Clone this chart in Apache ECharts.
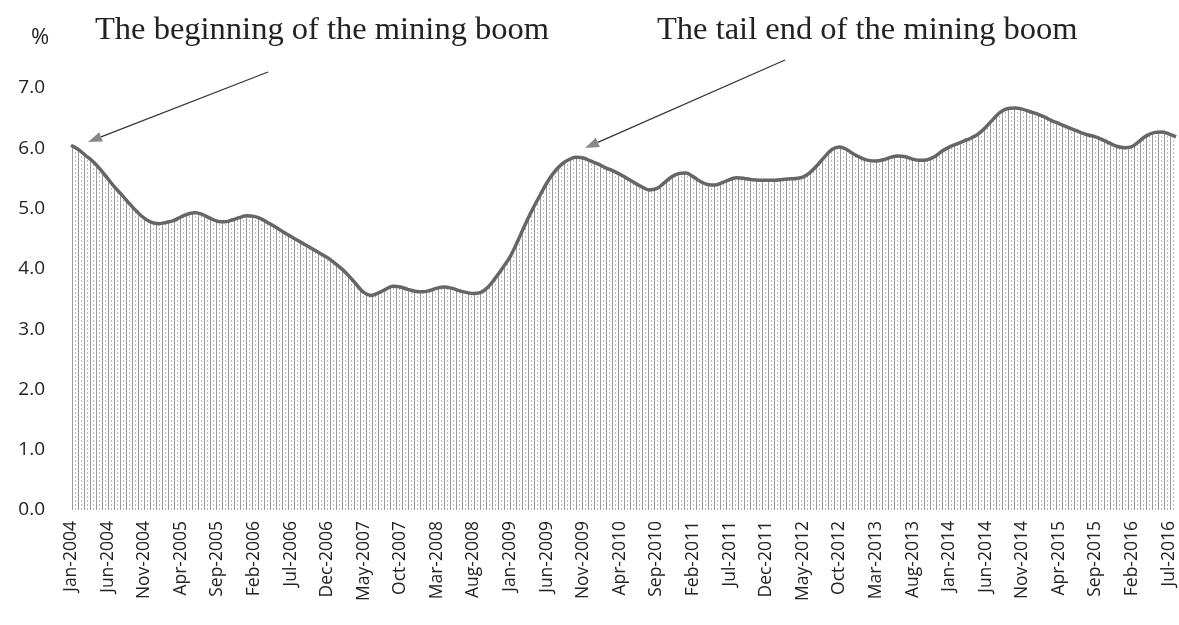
<!DOCTYPE html>
<html>
<head>
<meta charset="utf-8">
<script src="https://cdn.jsdelivr.net/npm/echarts@6/dist/echarts.min.js"></script>
<style>
  html, body { margin: 0; padding: 0; background: #fff; }
  #chart { width: 1179px; height: 625px; }
</style>
</head>
<body>
<div id="chart"></div>
<script>
// monthly values, Jan-2004 .. Aug-2016 (%)
let months = ['Jan', 'Feb', 'Mar', 'Apr', 'May', 'Jun', 'Jul', 'Aug', 'Sep', 'Oct', 'Nov', 'Dec'];
let startYear = 2004;
let values = [
    6.05, 5.98, 5.88, 5.78, 5.65, 5.50, 5.35, 5.22, 5.08, 4.95, 4.84, 4.77,
    4.75, 4.77, 4.80, 4.86, 4.91, 4.93, 4.90, 4.84, 4.79, 4.78, 4.81, 4.85,
    4.88, 4.87, 4.83, 4.76, 4.69, 4.61, 4.54, 4.47, 4.40, 4.33, 4.26, 4.19,
    4.10, 4.00, 3.88, 3.74, 3.61, 3.56, 3.60, 3.66, 3.71, 3.70, 3.66, 3.63,
    3.62, 3.64, 3.68, 3.70, 3.68, 3.64, 3.61, 3.59, 3.61, 3.70, 3.85, 4.02,
    4.20, 4.45, 4.72, 4.97, 5.20, 5.42, 5.60, 5.73, 5.81, 5.85, 5.84, 5.79,
    5.74, 5.68, 5.63, 5.57, 5.50, 5.43, 5.36, 5.31, 5.33, 5.42, 5.52, 5.58,
    5.59, 5.53, 5.45, 5.40, 5.39, 5.43, 5.48, 5.51, 5.50, 5.48, 5.47, 5.47,
    5.47, 5.48, 5.49, 5.50, 5.52, 5.60, 5.72, 5.86, 5.98, 6.02, 5.98, 5.90,
    5.84, 5.80, 5.79, 5.81, 5.85, 5.87, 5.86, 5.82, 5.80, 5.81, 5.86, 5.95,
    6.02, 6.07, 6.12, 6.17, 6.24, 6.35, 6.48, 6.60, 6.66, 6.67, 6.65, 6.61,
    6.57, 6.52, 6.46, 6.41, 6.36, 6.31, 6.26, 6.22, 6.19, 6.14, 6.08, 6.03,
    6.01, 6.03, 6.12, 6.21, 6.26, 6.27, 6.24, 6.19
];
let categories = values.map((v, i) => months[i % 12] + '-' + (startYear + Math.floor(i / 12)));
let yTicks = [0, 1, 2, 3, 4, 5, 6, 7];

// hatched fill like the original (vertical dotted lines)
let pat = document.createElement('canvas');
pat.width = 6;
pat.height = 4;
let ctx = pat.getContext('2d');
ctx.fillStyle = '#9a9a9a';
ctx.fillRect(0, 0, 1, 4);
ctx.fillStyle = '#b8b8b8';
ctx.fillRect(3, 0, 1, 2);

let myChart = echarts.init(document.getElementById('chart'));

function arrow(x1, y1, x2, y2) {
    // shaft plus a filled head at (x2, y2)
    let dx = x2 - x1, dy = y2 - y1;
    let len = Math.sqrt(dx * dx + dy * dy);
    let ux = dx / len, uy = dy / len;
    let bx = x2 - ux * 14, by = y2 - uy * 14;
    return [
        { type: 'line', shape: { x1: x1, y1: y1, x2: bx, y2: by }, style: { stroke: '#333', lineWidth: 1.2 } },
        { type: 'polygon', shape: { points: [[x2, y2], [bx - uy * 5, by + ux * 5], [bx + uy * 5, by - ux * 5]] }, style: { fill: '#888' } }
    ];
}

let option = {
    backgroundColor: '#fff',
    animation: false,
    grid: { left: 71, right: 3, top: 88, bottom: 115 },
    xAxis: {
        type: 'category',
        data: categories,
        boundaryGap: false,
        axisLine: { show: false },
        axisTick: { show: false },
        axisLabel: {
            interval: 4,
            rotate: 90,
            margin: 11,
            color: '#222',
            fontFamily: 'Open Sans',
            fontSize: 17.5
        }
    },
    yAxis: {
        type: 'value',
        min: yTicks[0],
        max: yTicks[yTicks.length - 1],
        interval: 1,
        splitLine: { show: false },
        axisLine: { show: false },
        axisTick: { show: false },
        axisLabel: {
            margin: 26,
            color: '#222',
            fontFamily: 'Open Sans',
            fontSize: 19,
            formatter: v => v.toFixed(1)
        }
    },
    series: [{
        type: 'line',
        data: values,
        smooth: 0.4,
        symbol: 'none',
        lineStyle: { color: '#666', width: 3.5 },
        areaStyle: { color: { image: pat, repeat: 'repeat' }, opacity: 1 }
    }],
    graphic: [
        { type: 'text', left: 31, top: 27, style: { text: '%', font: '22px "Open Sans"', fill: '#222' } },
        { type: 'text', left: 95, top: 14, style: { text: 'The beginning of the mining boom', font: '32.5px "Liberation Serif"', fill: '#222' } },
        { type: 'text', left: 657, top: 14, style: { text: 'The tail end of the mining boom', font: '32.5px "Liberation Serif"', fill: '#222' } }
    ].concat(arrow(268, 72, 88, 142), arrow(785, 60, 585, 148))
};

myChart.setOption(option);
</script>
</body>
</html>
